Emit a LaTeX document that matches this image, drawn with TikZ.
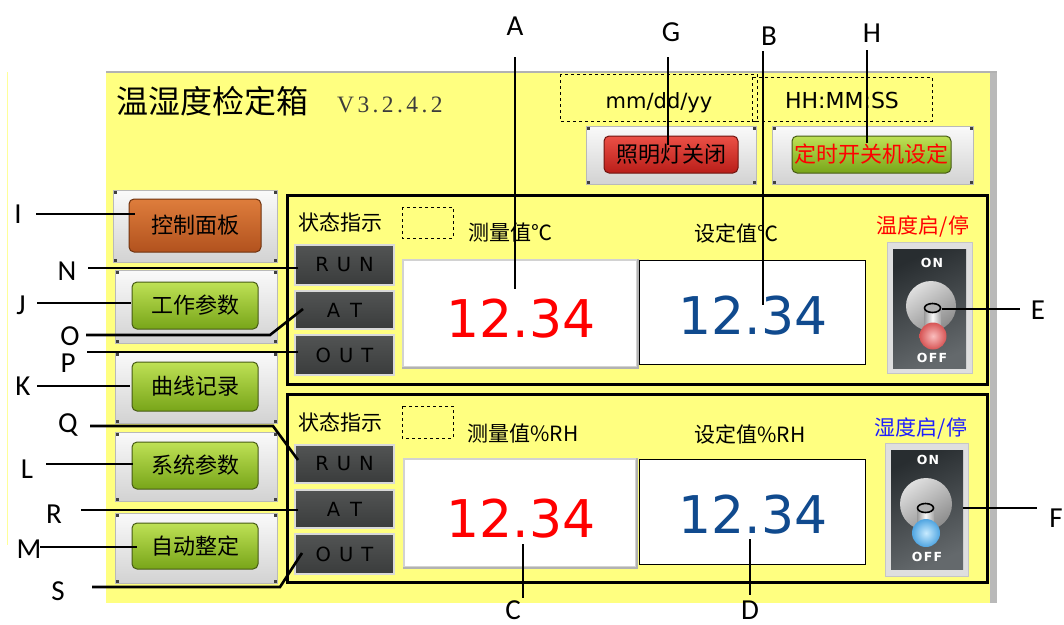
\documentclass[tikz,border=0pt]{standalone}
\usepackage{fontspec}
\setmainfont{Noto Sans CJK SC}
\newfontfamily\dvf{DejaVu Sans}
\newfontfamily\lblf{Carlito}
\newfontfamily\serf{Liberation Serif}
\usetikzlibrary{calc}
\definecolor{panelY}{RGB}{255,255,128}
\definecolor{numRed}{RGB}{255,0,0}
\definecolor{numBlue}{RGB}{16,74,142}
\definecolor{lblBlue}{RGB}{30,30,255}
\definecolor{grnTop}{RGB}{190,225,85}
\definecolor{grnBot}{RGB}{120,165,25}
\definecolor{grnEdge}{RGB}{70,90,20}
\definecolor{orgTop}{RGB}{222,125,60}
\definecolor{orgBot}{RGB}{178,82,30}
\definecolor{orgEdge}{RGB}{110,50,15}
\definecolor{redTop}{RGB}{235,80,70}
\definecolor{redBot}{RGB}{185,30,25}
\definecolor{redEdge}{RGB}{110,20,15}
\definecolor{indTop}{RGB}{82,84,84}
\definecolor{indBot}{RGB}{58,60,60}
\definecolor{swTop}{RGB}{40,45,48}
\definecolor{swBot}{RGB}{100,105,108}
\definecolor{ballRedIn}{RGB}{250,190,190}
\definecolor{ballRedOut}{RGB}{215,85,85}
\definecolor{ballBlueIn}{RGB}{200,235,255}
\definecolor{ballBlueOut}{RGB}{80,165,225}
\definecolor{verGrey}{RGB}{60,60,60}
\begin{document}
\begin{tikzpicture}[x=1pt,y=-1pt,
 leader/.style={line width=2.6pt, draw=black},
 lbl/.style={font=\lblf\fontsize{29}{32}\selectfont, inner sep=0pt, anchor=base},
 cjk/.style={font=\fontsize{21}{24}\selectfont, inner sep=0pt},
 frameBtn/.style={draw=gray!55, line width=1pt, top color=gray!4, bottom color=gray!35, inner sep=0pt},
 btnBase/.style={line width=1pt, rounded corners=5pt, inner sep=0pt, font=\fontsize{22}{24}\selectfont},
 grnBtn/.style={btnBase, draw=grnEdge, top color=grnTop, bottom color=grnBot},
 orgBtn/.style={btnBase, draw=orgEdge, top color=orgTop, bottom color=orgBot},
 redBtn/.style={btnBase, draw=redEdge, top color=redTop, bottom color=redBot},
 groupBox/.style={draw=black, line width=3pt},
 indic/.style={draw=gray!30, line width=2pt, top color=indTop, bottom color=indBot, minimum width=99, inner sep=0pt, font=\dvf\fontsize{19.5}{21}\selectfont},
 dashBox/.style={draw=black, dashed, line width=0.9pt},
 measBox/.style={draw=gray!35, line width=1.5pt, fill=white},
 setBox/.style={draw=black, line width=1pt, fill=white},
 numTxt/.style={font=\dvf\fontsize{52}{56}\selectfont, inner sep=0pt, anchor=base},
 swFrame/.style={draw=gray!45, line width=1pt, fill=gray!25, inner sep=0pt},
 swTxt/.style={font=\dvf\bfseries\fontsize{12.5}{13}\selectfont, text=white, inner sep=0pt}
]
\useasboundingbox (0,0) rectangle (1064,624);
\fill[white] (0,0) rectangle (1064,624);
% main panel
\fill[panelY] (106,72) rectangle (990,603);
\fill[gray!55] (990,72) rectangle (997,603);
\draw[gray!60, line width=1.2pt] (106,72) -- (997,72);
\draw[panelY!80!white, line width=0.8pt] (7.5,72) -- (7.5,545);
% title
\node[font=\fontsize{32}{36}\selectfont, inner sep=0pt] (title) at (212,101) {温湿度检定箱};
\node[font=\serf\fontsize{23.5}{26}\selectfont, text=verGrey, inner sep=0pt, anchor=base west] (ver) at (337,112)
 {V\kern3.4pt3\kern3.4pt.\kern3.4pt2\kern3.4pt.\kern3.4pt4\kern3.4pt.\kern3.4pt2};
% date/time
\draw[dashBox] (560,74) rectangle (757,121);
\draw[dashBox] (752,77) rectangle (932,121);
\node[font=\dvf\fontsize{21}{24}\selectfont, inner sep=0pt, anchor=base] (date) at (659,108) {mm/dd/yy};
\node[font=\dvf\fontsize{22}{24}\selectfont, inner sep=0pt, anchor=base] (time) at (842,108) {HH:MM:SS};
% top buttons
\node[frameBtn, minimum width=170, minimum height=58] (fG) at (671,155) {};
\node[redBtn, minimum width=134, minimum height=37] (bG) at (671,154.5) {照明灯关闭};
\node[frameBtn, minimum width=201, minimum height=58] (fH) at (872.5,155) {};
\node[grnBtn, minimum width=159, minimum height=37, text=red] (bH) at (871.5,154.5) {定时开关机设定};
% left buttons
\node[frameBtn, minimum width=164, minimum height=72] (fI) at (195,226) {};
\node[orgBtn, minimum width=132, minimum height=53] (bI) at (195,225.5) {控制面板};
\node[frameBtn, minimum width=162, minimum height=73] (fJ) at (196,306.5) {};
\node[grnBtn, minimum width=126, minimum height=47] (bJ) at (195,305.5) {工作参数};
\node[frameBtn, minimum width=162, minimum height=71] (fK) at (196,387.5) {};
\node[grnBtn, minimum width=126, minimum height=49] (bK) at (195,386.5) {曲线记录};
\node[frameBtn, minimum width=162, minimum height=69] (fL) at (196,466.5) {};
\node[grnBtn, minimum width=126, minimum height=47] (bL) at (195,465.5) {系统参数};
\node[frameBtn, minimum width=162, minimum height=70] (fM) at (196,548) {};
\node[grnBtn, minimum width=126, minimum height=46] (bM) at (195,546) {自动整定};
\foreach \n in {fG,fH,fI,fJ,fK,fL,fM} {
  \fill[black!75] ($(\n.north west)+(1,1)$) rectangle ++(3,3);
  \fill[black!75] ($(\n.north east)+(-4,1)$) rectangle ++(3,3);
  \fill[black!75] ($(\n.south west)+(1,-4)$) rectangle ++(3,3);
  \fill[black!75] ($(\n.south east)+(-4,-4)$) rectangle ++(3,3);
}
% group boxes
\draw[groupBox] (287,195) rectangle (987,384);
\draw[groupBox] (287,394) rectangle (987,582);
% ---- upper group (temperature)
\node[cjk] (stT) at (340,222) {状态指示};
\draw[dashBox] (402,207) rectangle (453,238);
\node[indic, minimum height=40] (runT) at (344.5,265) {R\hspace{8pt}U\hspace{8pt}N};
\node[indic, minimum height=38] (atT) at (344.5,310) {A\hspace{10pt}T};
\node[indic, minimum height=40] (outT) at (344.5,355) {O\hspace{8pt}U\hspace{8pt}T};
\node[cjk] (hmT) at (510,233) {测量值℃};
\node[cjk] (hsT) at (736,233) {设定值℃};
\node[measBox, minimum width=234, minimum height=107, inner sep=0pt] (mT) at (520,313.5) {};
\draw[gray!60, line width=1.5pt] (mT.north east) -- (mT.south east) -- (mT.south west);
\node[setBox, minimum width=226, minimum height=104, inner sep=0pt] (sT) at (752,312) {};
\node[numTxt, text=numRed] (vmT) at (521,337) {12.34};
\node[numTxt, text=numBlue] (vsT) at (753,334) {12.34};
\node[cjk, text=red] (onT) at (923,227) {温度启/停};
% upper switch
\node[swFrame, minimum width=85, minimum height=131] (swT) at (929.5,307.5) {};
\shade[top color=swTop, bottom color=swBot, shading angle=25] (893,249) rectangle (966,368);
\node[swTxt] (swTon) at (932,263) {O\kern1.2pt N};
\node[swTxt] (swToff) at (932,358) {O\kern1.2pt F\kern1.2pt F};
\shade[top color=gray!25, bottom color=gray!90, shading angle=35] (931,306) circle (25);
\shade[left color=gray!80, right color=gray!70, middle color=gray!5] (924,308) rectangle (941,330);
\draw[black, line width=1.6pt, fill=gray!60] (932.5,308) ellipse (8 and 4.5);
\shade[inner color=ballRedIn, outer color=ballRedOut] (933,336) circle (13.5);
% ---- lower group (humidity)
\node[cjk] (stH) at (340,422) {状态指示};
\draw[dashBox] (402,406) rectangle (453,438);
\node[indic, minimum height=38] (runH) at (344.5,464) {R\hspace{8pt}U\hspace{8pt}N};
\node[indic, minimum height=38] (atH) at (344.5,509) {A\hspace{10pt}T};
\node[indic, minimum height=40] (outH) at (344.5,554) {O\hspace{8pt}U\hspace{8pt}T};
\node[cjk] (hmH) at (523,434) {测量值\%RH};
\node[cjk] (hsH) at (750,434) {设定值\%RH};
\node[measBox, minimum width=232, minimum height=108, inner sep=0pt] (mH) at (520,513) {};
\draw[gray!60, line width=1.5pt] (mH.north east) -- (mH.south east) -- (mH.south west);
\node[setBox, minimum width=226, minimum height=105, inner sep=0pt] (sH) at (752,511.5) {};
\node[numTxt, text=numRed] (vmH) at (521,537) {12.34};
\node[numTxt, text=numBlue] (vsH) at (753,533) {12.34};
\node[cjk, text=lblBlue] (onH) at (921,428) {湿度启/停};
% lower switch
\node[swFrame, minimum width=83, minimum height=133] (swH) at (926.5,509.5) {};
\shade[top color=swTop, bottom color=swBot, shading angle=25] (891,450) rectangle (963,569);
\node[swTxt] (swHon) at (928,460) {O\kern1.2pt N};
\node[swTxt] (swHoff) at (927,557) {O\kern1.2pt F\kern1.2pt F};
\shade[top color=gray!25, bottom color=gray!90, shading angle=35] (926,504) circle (26);
\shade[left color=gray!80, right color=gray!70, middle color=gray!5] (917,508) rectangle (934,528);
\draw[black, line width=1.6pt, fill=gray!60] (925.5,508) ellipse (8 and 4.5);
\shade[inner color=ballBlueIn, outer color=ballBlueOut] (926,533) circle (14);
% ---- labels
\node[lbl] (lA) at (515,35) {A};
\node[lbl] (lG) at (671,41) {G};
\node[lbl] (lB) at (769,45) {B};
\node[lbl] (lH) at (872,42) {H};
\node[lbl] (lE) at (1038,319) {E};
\node[lbl] (lF) at (1056,527) {F};
\node[lbl] (lC) at (513,619) {C};
\node[lbl] (lD) at (750,619) {D};
\node[lbl] (lI) at (18,223) {I};
\node[lbl] (lN) at (67,280) {N};
\node[lbl] (lJ) at (21,314) {J};
\node[lbl] (lO) at (70,345) {O};
\node[lbl] (lP) at (68,372) {P};
\node[lbl] (lK) at (23,395) {K};
\node[lbl] (lQ) at (68,432) {Q};
\node[lbl] (lL) at (27,478) {L};
\node[lbl] (lR) at (54,523) {R};
\node[lbl] (lM) at (29,558) {M};
\node[lbl] (lS) at (58,600) {S};
% leader coordinates
\coordinate (A1) at (515,57);  \coordinate (A2) at (515,289);
\coordinate (G1) at (668,57);  \coordinate (G2) at (668,145);
\coordinate (B1) at (763,51);  \coordinate (B2) at (763,305);
\coordinate (H1) at (867,50);  \coordinate (H2) at (867,143);
\coordinate (E1) at (942,309); \coordinate (E2) at (1020,309);
\coordinate (F1) at (963,508); \coordinate (F2) at (1037,508);
\coordinate (C1) at (523,544); \coordinate (C2) at (523,598);
\coordinate (D1) at (750,539); \coordinate (D2) at (750,595);
\coordinate (I1) at (36,214);  \coordinate (I2) at (135,214);
\coordinate (N1) at (88,268);  \coordinate (N2) at (298,268);
\coordinate (J1) at (37,303);  \coordinate (J2) at (131,303);
\coordinate (O1) at (86,335);  \coordinate (O2) at (270,335); \coordinate (O3) at (303,309);
\coordinate (P1) at (87,352);  \coordinate (P2) at (298,352);
\coordinate (K1) at (37,386);  \coordinate (K2) at (130,386);
\coordinate (Q1) at (90,426);  \coordinate (Q2) at (273,426); \coordinate (Q3) at (298,460);
\coordinate (L1) at (46,464);  \coordinate (L2) at (133,464);
\coordinate (R1) at (81,510);  \coordinate (R2) at (298,510);
\coordinate (M1) at (40,547);  \coordinate (M2) at (137,547);
\coordinate (S1) at (92,587);  \coordinate (S2) at (280,587); \coordinate (S3) at (302,553);
\foreach \p in {A,G,B,H,E,F,C,D,I,N,J,P,K,L,R,M} { \draw[leader] (\p1) -- (\p2); }
\draw[leader] (O1) -- (O2) -- (O3);
\draw[leader] (Q1) -- (Q2) -- (Q3);
\draw[leader] (S1) -- (S2) -- (S3);
\end{tikzpicture}
\end{document}
